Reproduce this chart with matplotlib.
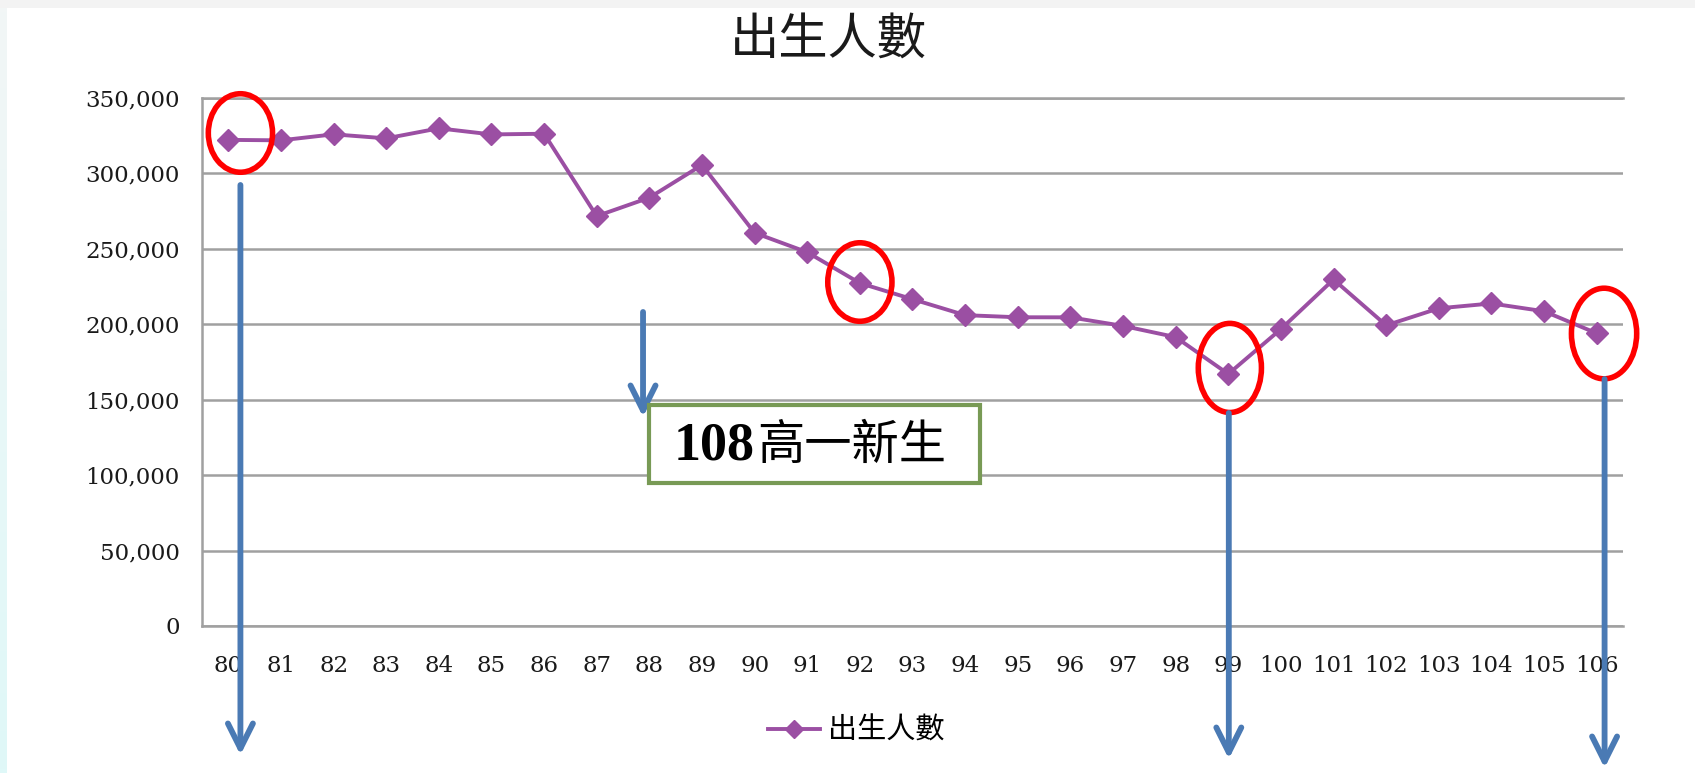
import matplotlib
matplotlib.use("Agg")
import matplotlib.pyplot as plt
import numpy as np
from matplotlib.patches import Ellipse, Rectangle
from matplotlib.lines import Line2D
from matplotlib.colors import LinearSegmentedColormap

# ---- data ----
years = ["80", "81", "82", "83", "84", "85", "86", "87", "88", "89", "90", "91", "92",
         "93", "94", "95", "96", "97", "98", "99", "100", "101", "102", "103", "104", "105", "106"]
births = [321932, 321632, 325613, 322938, 329581, 325545, 326002, 271450, 283661, 305312,
          260354, 247530, 227070, 216419, 205854, 204459, 204414, 198733, 191310, 166886,
          196627, 229481, 199113, 210383, 213598, 208440, 193844]
y_ticks = [0, 50000, 100000, 150000, 200000, 250000, 300000, 350000]
title_text = "出生人數"
series_name = "出生人數"
box_num = "108"
box_cjk = "高一新生"
# highlighted points (index, value centre, width idx, height value)
circles = [(0.23, 326500, 1.22, 52000), (12.0, 227800, 1.22, 52000),
           (19.03, 170900, 1.2, 59000), (26.14, 193700, 1.24, 60000)]

W, H = 1695, 773
fig = plt.figure(figsize=(W / 100, H / 100), dpi=100)
fig.patch.set_facecolor("white")

# top gray strip and left cyan strip
fig.patches.append(Rectangle((0, 1 - 8 / H), 1, 8 / H, transform=fig.transFigure,
                             facecolor="#f3f3f3", edgecolor="none", zorder=0))
sax = fig.add_axes([0, 0, 7 / W, 1 - 8 / H])
grad = np.linspace(0, 1, 200).reshape(-1, 1)
cm = LinearSegmentedColormap.from_list("c", ["#f2f6f6", "#dff8f8"])
sax.imshow(grad, aspect="auto", cmap=cm, origin="upper", extent=[0, 1, 0, 1])
sax.axis("off")

ax = fig.add_axes([202 / W, (H - 626) / H, (1623 - 202) / W, (626 - 97.5) / H])
x = np.arange(len(years))
ax.plot(x, births, color="#9b4fa3", lw=2.8, marker="D", ms=11, mec="#9b4fa3",
        mfc="#9b4fa3", label=series_name, zorder=3)
ax.set_xlim(-0.5, len(years) - 0.5)
ax.set_ylim(0, 350000)
ax.set_yticks(y_ticks)
ax.set_yticklabels([f"{v:,}" for v in y_ticks])
ax.set_xticks(x)
ax.set_xticklabels(years)
ax.grid(axis="y", color="#a0a0a0", lw=1.8)
ax.set_axisbelow(True)
for s in ["left", "bottom", "top"]:
    ax.spines[s].set_color("#a0a0a0")
    ax.spines[s].set_linewidth(1.8)
ax.spines["right"].set_visible(False)
ax.tick_params(axis="both", length=0, labelcolor="#1a1a1a")
ax.tick_params(axis="y", pad=16)
ax.tick_params(axis="x", pad=21)
for lab in ax.get_xticklabels() + ax.get_yticklabels():
    lab.set_family("DejaVu Serif")
    lab.set_fontsize(16.5)

fig.text(828 / W, 1 - 40 / H, title_text, ha="center", va="center",
         family=["Noto Sans CJK TC", "DejaVu Sans"], fontsize=35.5, color="#1a1a1a")

# legend
leg = fig.legend(handles=[Line2D([0], [0], color="#9b4fa3", lw=2.8, marker="D", ms=9)],
                 labels=[series_name], loc="center", bbox_to_anchor=(856 / W, 1 - 731 / H),
                 frameon=False, prop={"family": ["Noto Sans CJK TC", "DejaVu Sans"], "size": 21},
                 handlelength=1.8, handletextpad=0.25)

# red ellipses
for cx, cy, w, h in circles:
    e = Ellipse((cx, cy), w, h, fill=False, edgecolor="#ff0000", lw=4, zorder=5, clip_on=False)
    ax.add_patch(e)

# blue arrows: (x index, start pixel-from-top, tip pixel-from-top)
arrows = [(0.23, 185, 755), (7.88, 312, 417), (19.01, 413, 759), (26.15, 379, 768)]
for ax_x, y0, y1 in arrows:
    ax.annotate("", xy=(ax_x, H - y1), xycoords=("data", "figure pixels"),
                xytext=(ax_x, H - y0), textcoords=("data", "figure pixels"),
                arrowprops=dict(arrowstyle="->,head_length=0.9,head_width=0.45",
                                mutation_scale=20, lw=4.2, color="#4a7ab4",
                                shrinkA=0, shrinkB=0), annotation_clip=False, zorder=6)

# text box
fig.patches.append(Rectangle((649 / W, 1 - 483 / H), (980 - 649) / W, (483 - 405) / H,
                             transform=fig.transFigure, facecolor="white",
                             edgecolor="#789a55", lw=3, zorder=7))
fig.text(755 / W, 1 - 446 / H, box_num, ha="right", va="center", family="Liberation Serif",
         fontweight="bold", fontsize=39, color="black", zorder=8)
fig.text(757 / W, 1 - 446 / H, box_cjk, ha="left", va="center",
         family=["Noto Sans CJK TC", "DejaVu Sans"], fontsize=34, color="black", zorder=8)

fig.savefig("out.png", dpi=100)
